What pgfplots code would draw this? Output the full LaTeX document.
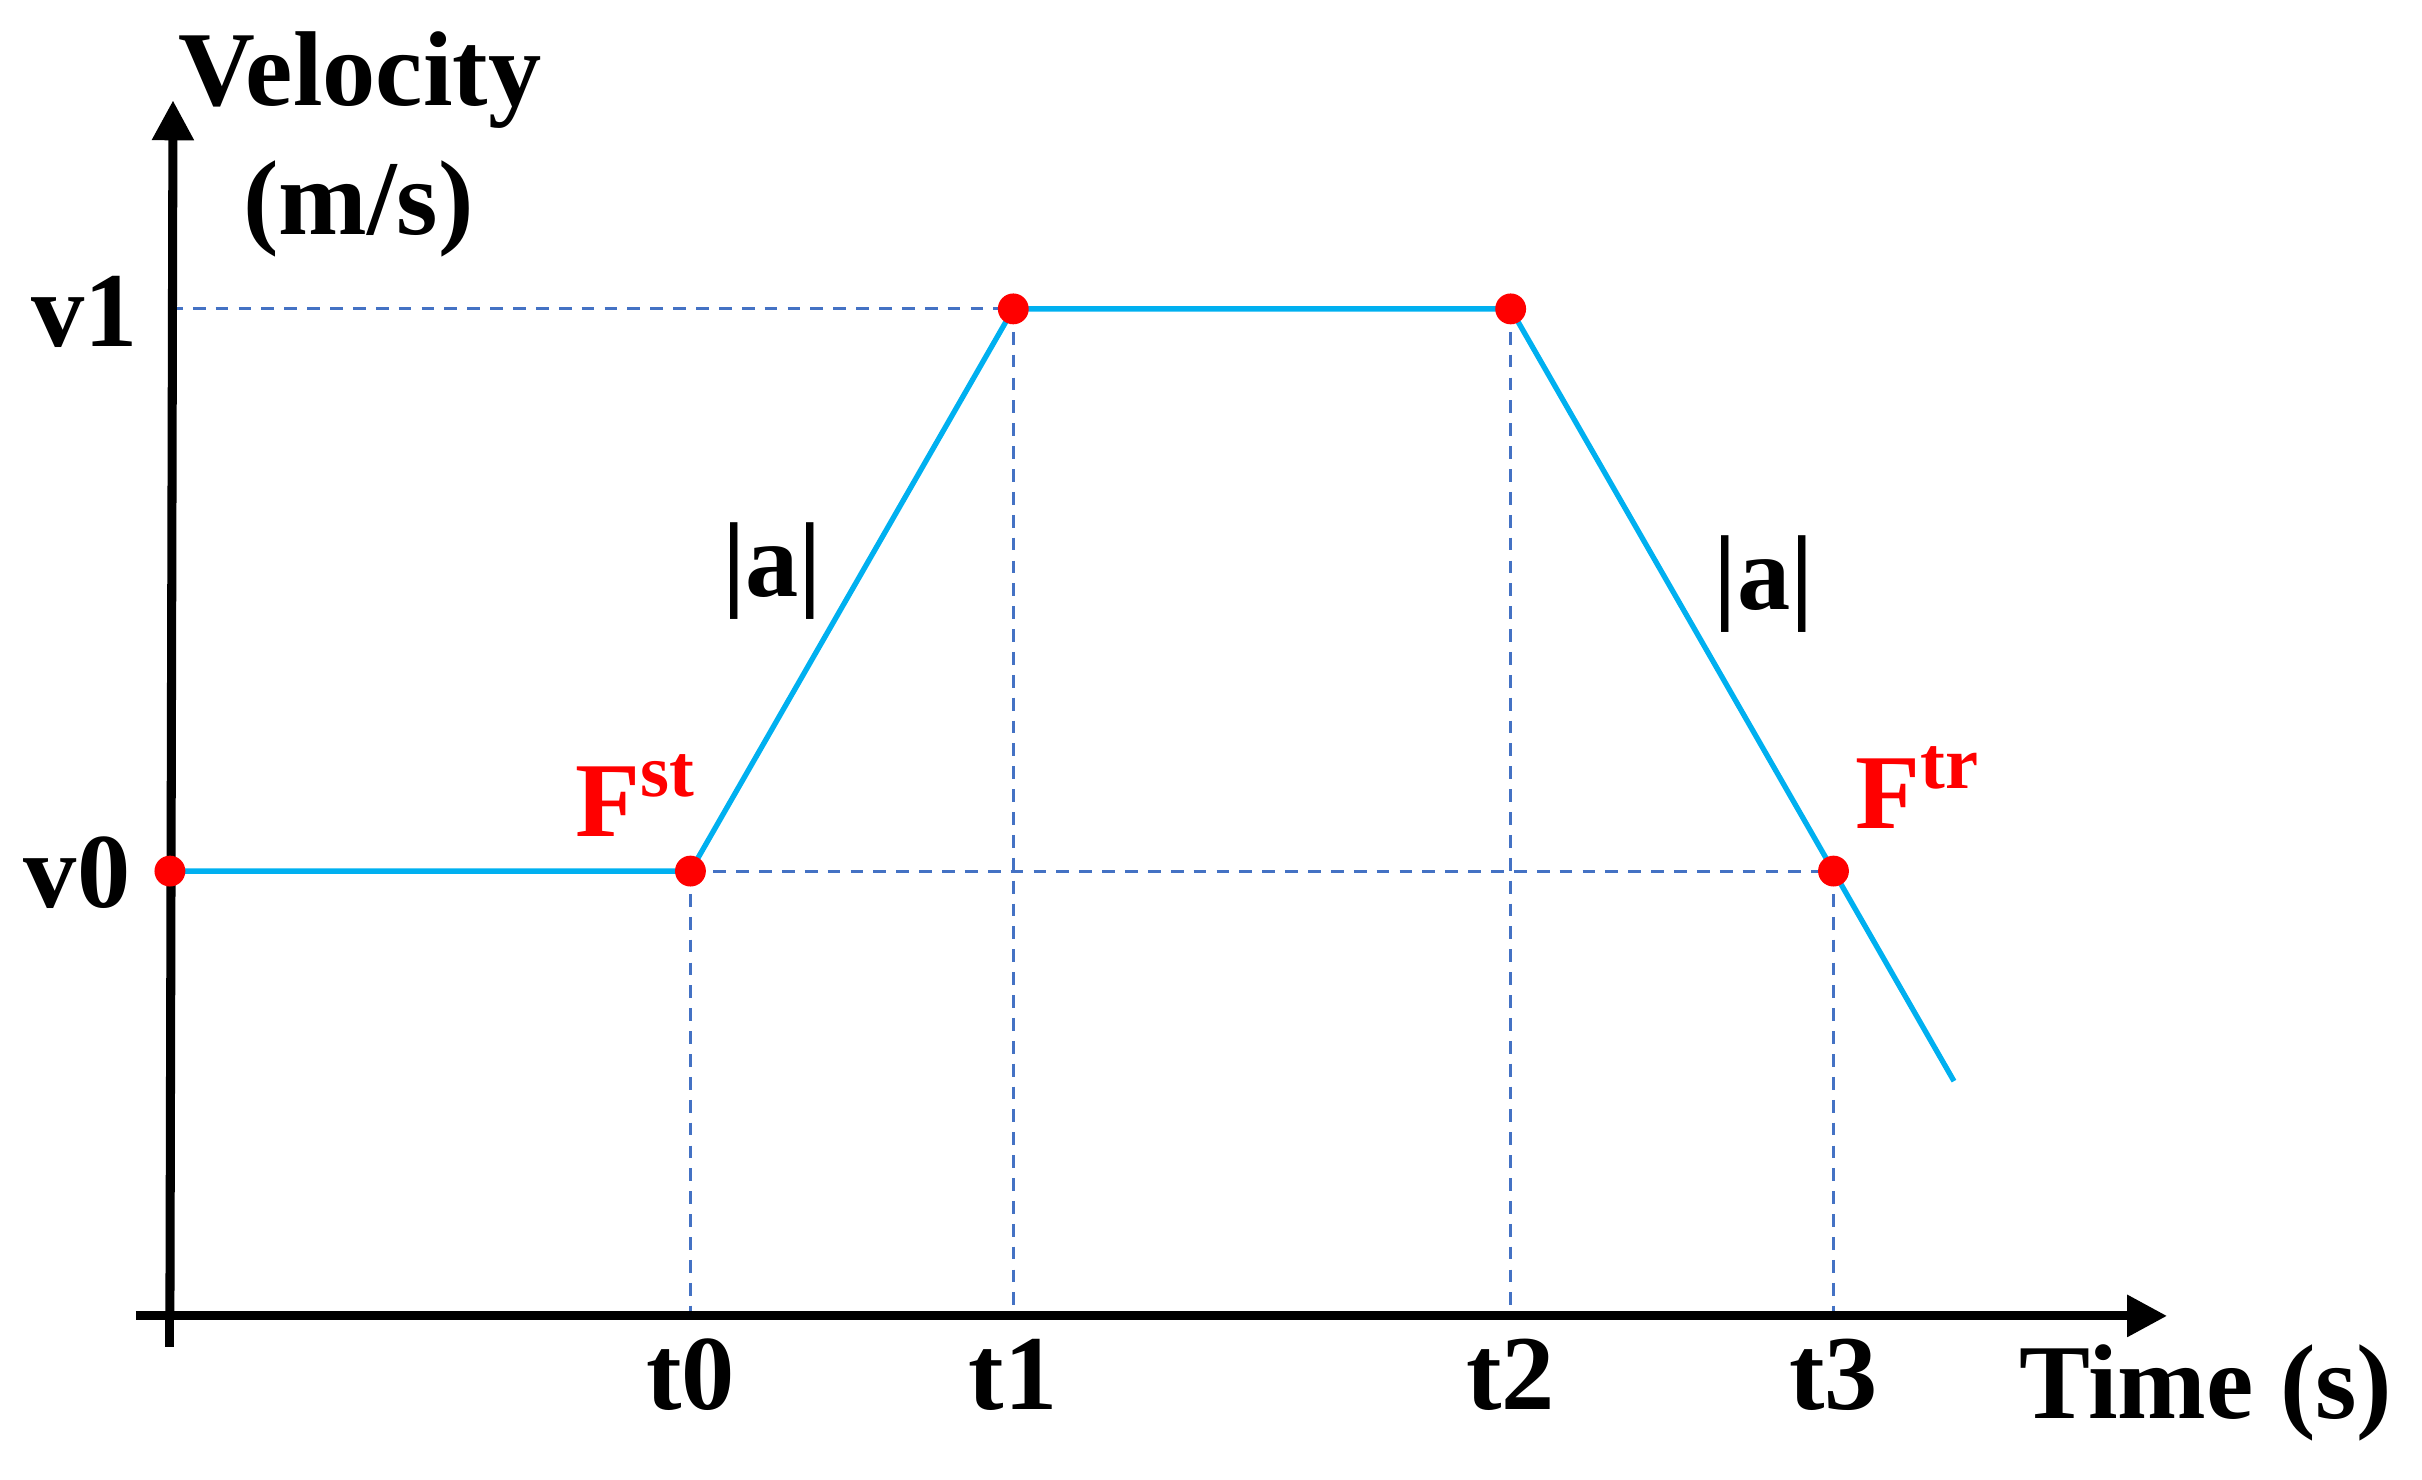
\documentclass[border=0pt]{standalone}
\usepackage{fontspec}
\setmainfont{Liberation Serif}
\usepackage{pgfplots}
\pgfplotsset{compat=1.18}
\usetikzlibrary{arrows.meta}
\definecolor{cian}{RGB}{0,176,240}
\definecolor{guia}{RGB}{68,114,196}
\definecolor{rojo}{RGB}{255,0,0}
\tikzset{
  guiad/.style={guia, line width=0.55pt, dash pattern=on 2.4pt off 1.9pt},
  eje/.style={line width=1.7pt, -{Triangle[length=7.5pt,width=7.5pt]}},
  lbl/.style={font=\fontsize{20}{22}\selectfont\bfseries, inner sep=0pt},
}
\begin{document}
\begin{tikzpicture}
\begin{axis}[scale only axis, width=13.42cm, height=8.235cm,
  xmin=-22, xmax=1293, ymin=-20, ymax=787,
  axis lines=none, clip=false]
% frame with the reference proportions
\path (axis cs:-110,-106) rectangle (axis cs:1458,852);
% guide lines
\addplot[guiad] coordinates {(0,652) (546,652)};
\addplot[guiad] coordinates {(337,288) (1077,288)};
\addplot[guiad] coordinates {(337,288) (337,0)};
\addplot[guiad] coordinates {(546,652) (546,0)};
\addplot[guiad] coordinates {(868,652) (868,0)};
\addplot[guiad] coordinates {(1077,288) (1077,0)};
% axes
\draw[eje] (axis cs:-22,0) -- (axis cs:1293,0);
\draw[line width=1.7pt] (axis cs:0,-20) -- (axis cs:0,0);
\draw[eje] (axis cs:0,-1) -- (axis cs:2,787);
% velocity profile
\addplot[cian, line width=1pt] coordinates {(0,288) (337,288) (546,652) (868,652) (1077,288) (1155,152)};
\addplot[only marks, mark=*, mark size=2.7pt, rojo, mark options={draw=rojo, fill=rojo}]
  coordinates {(0,288) (337,288) (546,652) (868,652) (1077,288)};
% labels
\node[lbl] at (axis cs:123,800) {Velocity};
\node[lbl] at (axis cs:122,717) {(m/s)};
\node[lbl, anchor=east] at (axis cs:-20,650) {v1};
\node[lbl, anchor=east] at (axis cs:-25,287) {v0};
\node[lbl] at (axis cs:337,-38) {t0};
\node[lbl] at (axis cs:546,-38) {t1};
\node[lbl] at (axis cs:868,-38) {t2};
\node[lbl] at (axis cs:1077,-38) {t3};
\node[lbl] at (axis cs:1318,-50) {Time (s)};
\node[lbl] at (axis cs:390,482) {|a|};
\node[lbl] at (axis cs:1032,474) {|a|};
\node[lbl, text=rojo] at (axis cs:302,337) {F\textsuperscript{st}};
\node[lbl, text=rojo] at (axis cs:1132,342) {F\textsuperscript{tr}};
\end{axis}
\end{tikzpicture}
\end{document}
